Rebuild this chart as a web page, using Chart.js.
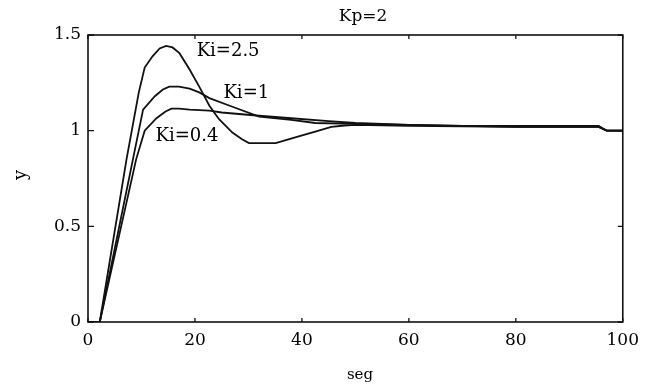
<!DOCTYPE html>
<html><head><meta charset="utf-8">
<style>html,body{margin:0;padding:0;background:#fff}</style>
<script src="https://cdn.jsdelivr.net/npm/chart.js@4"></script>
</head><body>
<canvas id="c" width="647" height="385"></canvas>
<script>
// Data (time in seg, response y)
const tKi25 = [0, 2.2, 7.2, 9.5, 10.6, 12.1, 13.4, 14.6, 15.8, 17.1, 19, 20.8, 22.7, 24.5, 27, 28.8, 30.1, 35.1, 37, 39.4, 42.5, 45.5, 48, 50, 60, 70, 80, 90, 95.5, 97, 100];
const yKi25 = [0, 0, 0.85, 1.2, 1.33, 1.39, 1.43, 1.443, 1.435, 1.405, 1.32, 1.23, 1.13, 1.06, 0.99, 0.955, 0.935, 0.935, 0.95, 0.97, 0.995, 1.02, 1.027, 1.03, 1.025, 1.022, 1.02, 1.02, 1.02, 1.0, 1.0];
const tKi1 = [0, 2.2, 8.4, 10.3, 12.5, 14, 15.2, 17, 19, 20.8, 22.7, 27, 32, 38, 42.5, 50, 60, 70, 80, 90, 95.5, 97, 100];
const yKi1 = [0, 0, 0.85, 1.11, 1.18, 1.215, 1.23, 1.23, 1.22, 1.2, 1.17, 1.125, 1.073, 1.056, 1.04, 1.035, 1.03, 1.025, 1.025, 1.025, 1.025, 1.0, 1.0];
const tKi04 = [0, 2.2, 9, 10.6, 12.8, 14.5, 15.6, 17, 19, 22.7, 25, 32, 38, 45, 50, 60, 70, 80, 90, 95.5, 97, 100];
const yKi04 = [0, 0, 0.85, 1.0, 1.065, 1.1, 1.115, 1.115, 1.11, 1.105, 1.095, 1.078, 1.065, 1.05, 1.04, 1.03, 1.025, 1.02, 1.02, 1.02, 1.0, 1.0];
const xTicks = [0, 20, 40, 60, 80, 100];
const yTicks = [0, 0.5, 1, 1.5];
const seriesLabels = ['Ki=2.5', 'Ki=1', 'Ki=0.4'];
const labelPos = [[26.2, 1.417], [29.6, 1.195], [18.5, 0.969]];
const titleText = 'Kp=2';
const xTitle = 'seg';
const yTitle = 'y';

const pts = (t, y) => t.map((v, i) => ({x: v, y: y[i]}));
const FONT = 'DejaVu Serif';
const lineStyle = {borderColor: '#111', borderWidth: 1.8, pointRadius: 0, showLine: true, fill: false, tension: 0};

const decor = {
  id: 'decor',
  afterDraw(chart) {
    const {ctx, chartArea: a, scales: {x, y}} = chart;
    ctx.save();
    ctx.strokeStyle = '#111';
    ctx.lineWidth = 1.6;
    ctx.strokeRect(a.left, a.top, a.right - a.left, a.bottom - a.top);
    ctx.lineWidth = 1.3;
    ctx.beginPath();
    xTicks.forEach(v => { const px = x.getPixelForValue(v); ctx.moveTo(px, a.bottom); ctx.lineTo(px, a.bottom - 4); ctx.moveTo(px, a.top); ctx.lineTo(px, a.top + 4); });
    yTicks.forEach(v => { const py = y.getPixelForValue(v); ctx.moveTo(a.left, py); ctx.lineTo(a.left + 6, py); ctx.moveTo(a.right, py); ctx.lineTo(a.right - 5, py); });
    ctx.stroke();
    ctx.fillStyle = '#000';
    ctx.textAlign = 'center';
    ctx.textBaseline = 'middle';
    ctx.font = '18px "' + FONT + '"';
    seriesLabels.forEach((s, i) => ctx.fillText(s, x.getPixelForValue(labelPos[i][0]), y.getPixelForValue(labelPos[i][1])));
    ctx.font = '17px "' + FONT + '"';
    ctx.fillText(titleText, 363, 17);
    ctx.font = '15px "' + FONT + '"';
    ctx.fillText(xTitle, 360, 375);
    ctx.font = '18px "' + FONT + '"';
    ctx.translate(21, 175);
    ctx.rotate(-Math.PI / 2);
    ctx.fillText(yTitle, 0, 0);
    ctx.restore();
  }
};

new Chart(document.getElementById('c'), {
  type: 'scatter',
  data: {
    datasets: [
      Object.assign({label: seriesLabels[0], data: pts(tKi25, yKi25)}, lineStyle),
      Object.assign({label: seriesLabels[1], data: pts(tKi1, yKi1)}, lineStyle),
      Object.assign({label: seriesLabels[2], data: pts(tKi04, yKi04)}, lineStyle)
    ]
  },
  options: {
    responsive: false,
    devicePixelRatio: 1,
    animation: false,
    layout: {padding: {left: 0, top: 35, right: 21, bottom: 0}},
    plugins: {legend: {display: false}, tooltip: {enabled: false}},
    scales: {
      x: {
        type: 'linear', min: 0, max: 100,
        afterBuildTicks: s => { s.ticks = xTicks.map(v => ({value: v})); },
        afterFit: s => { s.height = 63; },
        grid: {display: false, drawTicks: false},
        border: {display: false},
        ticks: {color: '#000', padding: 8, font: {family: FONT, size: 17}, maxRotation: 0}
      },
      y: {
        type: 'linear', min: 0, max: 1.5,
        afterBuildTicks: s => { s.ticks = yTicks.map(v => ({value: v})); },
        afterFit: s => { s.width = 88; },
        grid: {display: false, drawTicks: false},
        border: {display: false},
        ticks: {color: '#000', padding: 7, font: {family: FONT, size: 17}, callback: v => String(v)}
      }
    }
  },
  plugins: [decor]
});
</script>
</body></html>
